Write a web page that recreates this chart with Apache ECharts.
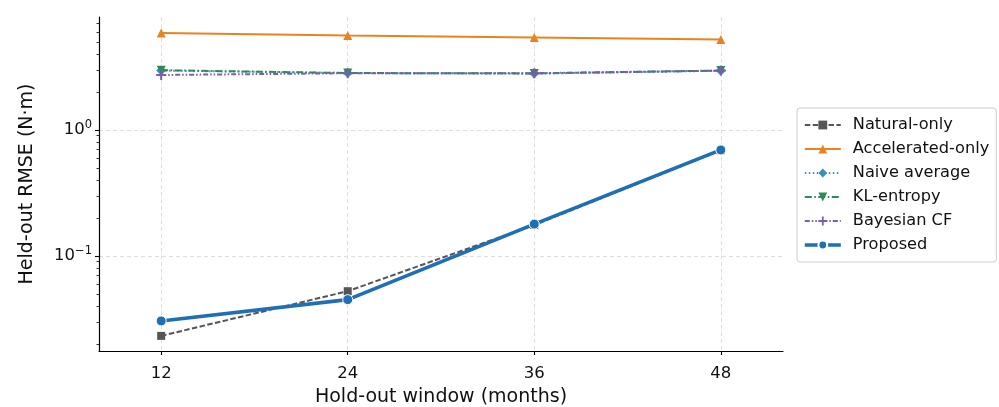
<!DOCTYPE html>
<html><head><meta charset="utf-8">
<script src="https://cdn.jsdelivr.net/npm/echarts@6/dist/echarts.min.js"></script>
<style>html,body{margin:0;padding:0;background:#fff}#c{width:999px;height:407px}</style>
</head><body><div id="c"></div>
<script>
const months = [12, 24, 36, 48];
const naturalOnly = [0.0232, 0.0525, 0.176, 0.69];
const acceleratedOnly = [5.89, 5.62, 5.42, 5.23];
const naiveAverage = [2.96, 2.83, 2.80, 2.95];
const klEntropy = [2.98, 2.83, 2.81, 2.96];
const bayesianCF = [2.73, 2.82, 2.82, 2.96];
const proposed = [0.0305, 0.045, 0.179, 0.694];
const xTicks = [12, 24, 36, 48];
const yMajor = [0.1, 1];
const yMinor = [0.02,0.03,0.04,0.05,0.06,0.07,0.08,0.09,0.2,0.3,0.4,0.5,0.6,0.7,0.8,0.9,2,3,4,5,6,7];

const FONT = 'DejaVu Sans';
const pair = arr => months.map((m, i) => [m, arr[i]]);
const plusPath = 'path://M4,0 L6,0 L6,4 L10,4 L10,6 L6,6 L6,10 L4,10 L4,6 L0,6 L0,4 L4,4 Z';
const triDown = 'path://M0,0 L10,0 L5,9 Z';

function mk(name, data, color, dash, symbol, size, width, z) {
  return {
    name, type: 'line', data: pair(data), symbol, symbolSize: size,
    z: z, color: color,
    lineStyle: { color, width, type: dash },
    itemStyle: { color, borderColor: symbol === 'circle' ? '#fff' : color, borderWidth: symbol === 'circle' ? 1 : 0 },
    emphasis: { disabled: true }
  };
}

const chart = echarts.init(document.getElementById('c'), null, { renderer: 'canvas' });
const yMin = 0.0176, yMax = 7.88;
chart.setOption({
  animation: false,
  textStyle: { fontFamily: FONT },
  grid: { left: 99, right: 216, top: 17, bottom: 56, containLabel: false, outerBoundsMode: 'none' },
  legend: {
    orient: 'vertical', left: 797, top: 108,
    padding: [9, 7, 9, 6], itemGap: 8, itemWidth: 36, itemHeight: 11,
    borderColor: '#cccccc', borderWidth: 1, borderRadius: 3,
    textStyle: { fontFamily: FONT, fontSize: 16.2, color: '#111', padding: [0, 0, 0, 7] },
    data: [
      { name: 'Natural-only', lineStyle: { width: 2 } },
      { name: 'Accelerated-only', lineStyle: { width: 2 } },
      { name: 'Naive average', lineStyle: { width: 2 } },
      { name: 'KL-entropy', lineStyle: { width: 2 } },
      { name: 'Bayesian CF', lineStyle: { width: 2 } },
      { name: 'Proposed', lineStyle: { width: 3.6 } }
    ]
  },
  xAxis: {
    type: 'value', min: 8, max: 52,
    name: 'Hold-out window (months)', nameLocation: 'middle', nameGap: 37,
    nameTextStyle: { fontFamily: FONT, fontSize: 19, color: '#111' },
    axisLine: { show: true, lineStyle: { color: '#000', width: 1.2 } },
    axisTick: { show: true, length: 4, lineStyle: { color: '#000', width: 1.1 }, customValues: xTicks },
    axisLabel: { fontFamily: FONT, fontSize: 16.5, color: '#111', margin: 14, customValues: xTicks },
    splitLine: { show: true, lineStyle: { color: '#dedede', width: 1, type: [4, 3] } }
  },
  yAxis: [{
    type: 'log', logBase: 10, min: yMin, max: yMax,
    name: 'Held-out RMSE (N·m)', nameLocation: 'middle', nameGap: 62,
    nameTextStyle: { fontFamily: FONT, fontSize: 19, color: '#111' },
    axisLine: { show: true, lineStyle: { color: '#000', width: 1.2 } },
    axisTick: { show: true, length: 4, lineStyle: { color: '#000', width: 1.1 }, customValues: yMajor },
    axisLabel: {
      fontFamily: FONT, fontSize: 16.5, color: '#111', margin: 7, customValues: yMajor,
      formatter: v => '{b|10}{s|' + String(Math.round(Math.log10(v))).replace('-', '\u2212') + '}',
      rich: { b: { fontFamily: FONT, fontSize: 16.5, color: '#111' }, s: { fontFamily: FONT, fontSize: 11.5, color: '#111', padding: [0, 0, 10, 0] } }
    },
    splitLine: { show: true, lineStyle: { color: '#dedede', width: 1, type: [4, 3] } }
  }, {
    type: 'log', logBase: 10, min: yMin, max: yMax, position: 'left',
    axisLine: { show: false },
    axisTick: { show: true, length: 2.5, lineStyle: { color: '#000', width: 0.8 }, customValues: yMinor },
    axisLabel: { show: false },
    splitLine: { show: false }
  }],
  series: [
    mk('Natural-only', naturalOnly, '#555555', [5.5, 2.4], 'rect', 8, 2, 2),
    mk('Accelerated-only', acceleratedOnly, '#e8831f', 'solid', 'triangle', 9, 2, 3),
    mk('Naive average', naiveAverage, '#3893b8', [1.5, 2.5], 'diamond', 10, 2, 4),
    mk('KL-entropy', klEntropy, '#2e8b57', [7, 2.5, 1.5, 2.5], triDown, 9, 2, 5),
    mk('Bayesian CF', bayesianCF, '#7b5cb0', [5, 2, 1.5, 2, 1.5, 2], plusPath, 10, 2, 6),
    mk('Proposed', proposed, '#1f6fb4', 'solid', 'circle', 10, 3.6, 7)
  ]
});
</script></body></html>
